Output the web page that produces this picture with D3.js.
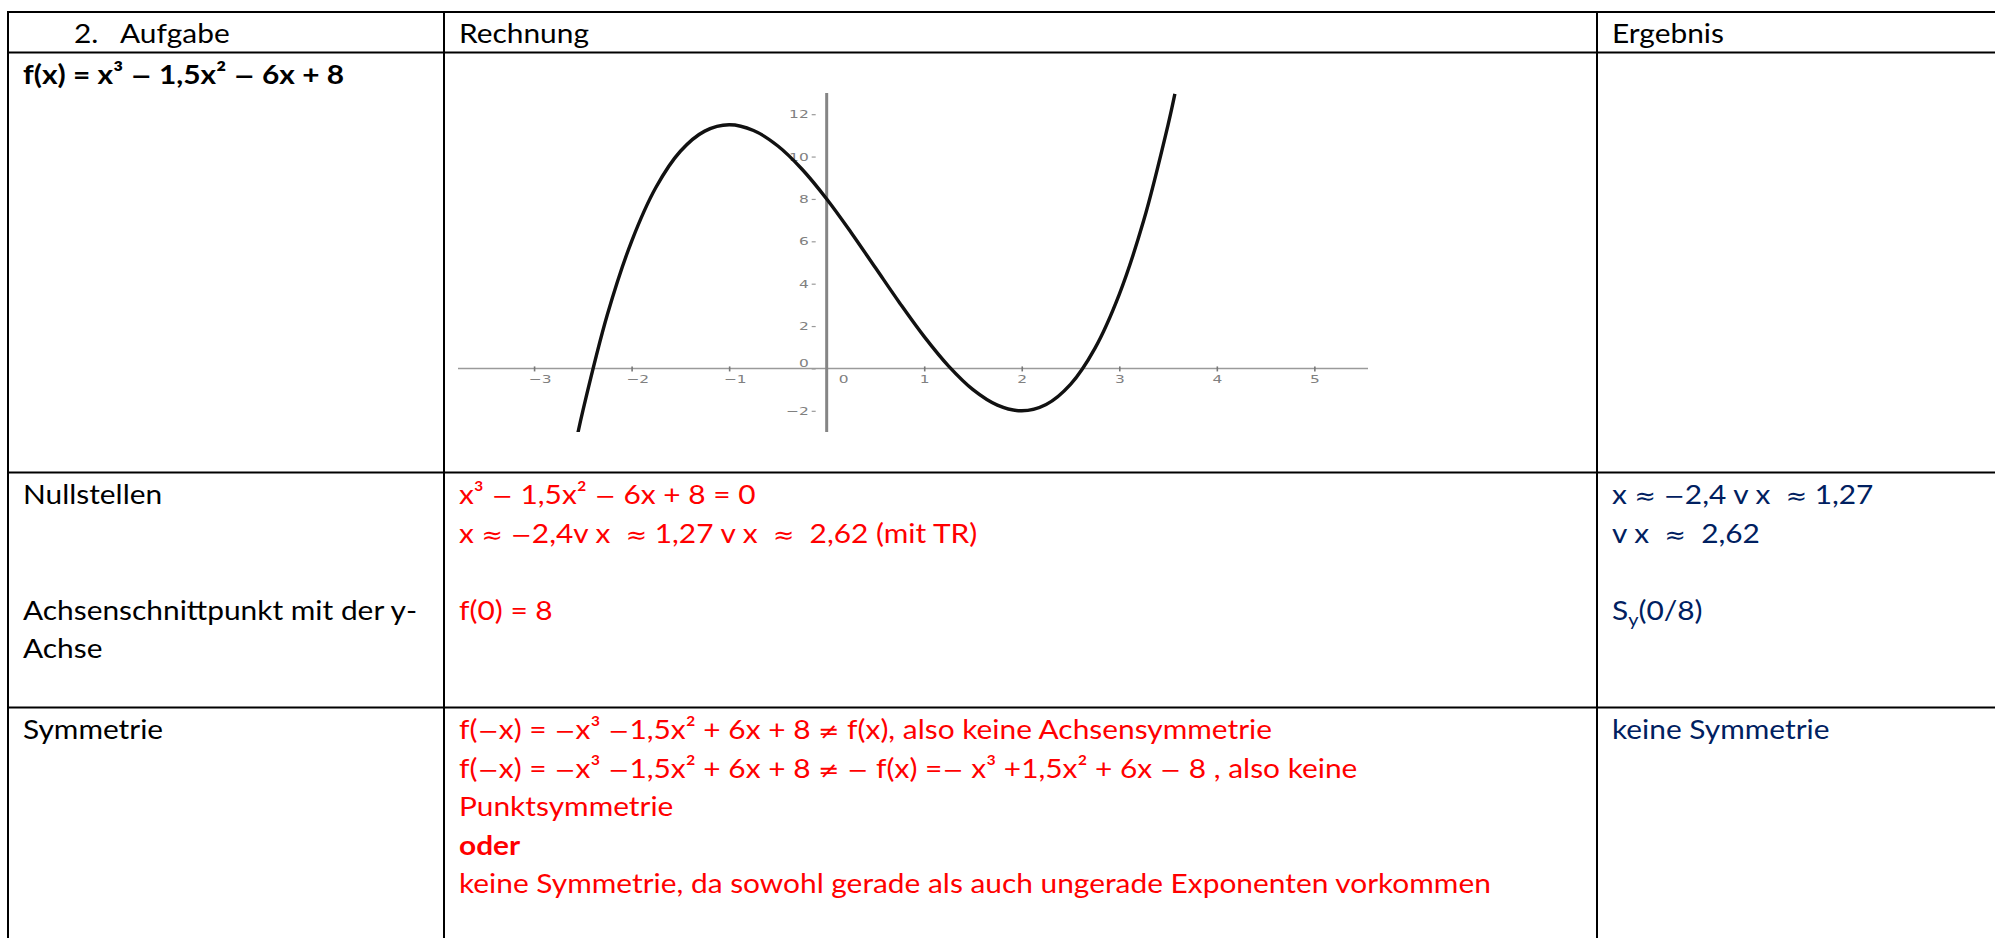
<!DOCTYPE html>
<html lang="de">
<head>
<meta charset="UTF-8">
<title>2. Aufgabe – Kurvendiskussion</title>
<script src="https://d3js.org/d3.v7.min.js"></script>
<style>
  body { margin: 0; background: #fff; }
  svg text { font-family: Lato, "Open Sans", sans-serif; font-size: 27px; white-space: pre; }
  .black { fill: #000; }
  .red { fill: #ff0000; }
  .navy { fill: #002060; }
  .bold { font-weight: 700; }
  .math { font-family: "DejaVu Sans", sans-serif; font-size: 23px; }
  .grid { stroke: #000; stroke-width: 2; }
  .tick text { font-family: "DejaVu Sans", sans-serif; font-size: 11px; fill: #808080; }
</style>
</head>
<body>
<svg id="sheet"></svg>
<script>
// --- values ---
const curveX = [-2.55, -2.5, -2.25, -2, -1.75, -1.5, -1.25, -1, -0.75, -0.5, -0.25, 0,
                0.25, 0.5, 0.75, 1, 1.25, 1.5, 1.75, 2, 2.25, 2.5, 2.75, 3, 3.25, 3.5, 3.57];
const curveY = [-3.03, -2, 2.52, 6, 8.55, 10.25, 11.2, 11.5, 11.23, 10.5, 9.39, 8,
                6.42, 4.75, 3.08, 1.5, 0.11, -1, -1.73, -2, -1.7, -0.75, 0.95, 3.5, 6.98, 11.5, 12.96];
const xTicks = [-3, -2, -1, 1, 2, 3, 4, 5];
const yTicks = [-2, 0, 2, 4, 6, 8, 10, 12];

// --- table text ---
const headerTexts = ["2.", "Aufgabe", "Rechnung", "Ergebnis"];
const funcText = "f(x) = x³ − 1,5x² − 6x + 8";
const rowLabels = ["Nullstellen", "Achsenschnittpunkt mit der y-", "Achse", "Symmetrie"];
const nullstellenCalc = ["x³ − 1,5x² − 6x + 8 = 0", "x ≈ −2,4v x  ≈ 1,27 v x  ≈  2,62 (mit TR)"];
const nullstellenResult = ["x ≈ −2,4 v x  ≈ 1,27", "v x  ≈  2,62"];
const yAchseCalc = "f(0) = 8";
const symmetrieCalc = [
  "f(−x) = −x³ −1,5x² + 6x + 8 ≠ f(x), also keine Achsensymmetrie",
  "f(−x) = −x³ −1,5x² + 6x + 8 ≠ − f(x) =− x³ +1,5x² + 6x − 8 , also keine",
  "Punktsymmetrie",
  "oder",
  "keine Symmetrie, da sowohl gerade als auch ungerade Exponenten vorkommen"
];
const symmetrieResult = "keine Symmetrie";

const W = 1995, H = 938;
const svg = d3.select("#sheet").attr("width", W).attr("height", H);

// table grid
const colX = [8, 444, 1597];
const rowY = [12, 52.5, 472.5, 707.5];
const lineGap = 38.6;

svg.selectAll("line.h").data(rowY).enter().append("line")
  .attr("class", "grid")
  .attr("x1", colX[0] - 1).attr("x2", W)
  .attr("y1", d => d).attr("y2", d => d);
svg.selectAll("line.v").data(colX).enter().append("line")
  .attr("class", "grid")
  .attr("x1", d => d).attr("x2", d => d)
  .attr("y1", rowY[0]).attr("y2", H);

// Lato is wider than the document font -> stretch so the long line fits like in the picture
const probe = svg.append("text").text(symmetrieCalc[4]);
const sx = 1032 / probe.node().getComputedTextLength();
probe.remove();

// math signs are set in a wider font, like the formula font of the original
function fillText(sel, txt) {
  txt.split(/([−≈≠])/).forEach(part => {
    if (!part) return;
    const t = sel.append("tspan").text(part);
    if (/^[−≈≠]$/.test(part)) t.attr("class", "math");
  });
  return sel;
}

function put(x, y, txt, cls) {
  const t = svg.append("text")
    .attr("class", cls)
    .attr("transform", `translate(${x},${y}) scale(${sx},1)`);
  return fillText(t, txt);
}
function putLines(x, top, lines, cls, start = 0) {
  lines.forEach((t, i) => put(x, top + 31.5 + (i + start) * lineGap, t, cls));
}

const c0 = colX[0] + 15, c1 = colX[1] + 15, c2 = colX[2] + 15;

// header row
put(74, rowY[0] + 31, headerTexts[0], "black");
put(120, rowY[0] + 31, headerTexts[1], "black");
put(c1, rowY[0] + 31, headerTexts[2], "black");
put(c2, rowY[0] + 31, headerTexts[3], "black");

// function row
putLines(c0, rowY[1], [funcText], "black bold");

// Nullstellen / y-Achse row
putLines(c0, rowY[2], [rowLabels[0]], "black");
putLines(c0, rowY[2], [rowLabels[1], rowLabels[2]], "black", 3);
putLines(c1, rowY[2], nullstellenCalc, "red");
putLines(c1, rowY[2], [yAchseCalc], "red", 3);
putLines(c2, rowY[2], nullstellenResult, "navy");

const sy = put(c2, rowY[2] + 31.5 + 3 * lineGap, "", "navy");
sy.append("tspan").text("S");
sy.append("tspan").attr("dy", 6).style("font-size", "18px").text("y");
sy.append("tspan").attr("dy", -6).text("(0/8)");

// Symmetrie row
putLines(c0, rowY[3], [rowLabels[3]], "black");
symmetrieCalc.forEach((t, i) =>
  put(c1, rowY[3] + 31.5 + i * lineGap, t, i === 3 ? "red bold" : "red"));
putLines(c2, rowY[3], [symmetrieResult], "navy");

// --- graph ---
const x = d3.scaleLinear().domain([-3.78, 5.55]).range([458, 1368]);
const y = d3.scaleLinear().domain([-3, 13]).range([432, 93]);
const graph = svg.append("g");

graph.append("clipPath").attr("id", "plotClip").append("rect")
  .attr("x", x.range()[0]).attr("y", y.range()[1])
  .attr("width", x.range()[1] - x.range()[0])
  .attr("height", y.range()[0] - y.range()[1]);

// x axis
graph.append("line")
  .attr("x1", x.range()[0]).attr("x2", x.range()[1])
  .attr("y1", y(0)).attr("y2", y(0))
  .attr("stroke", "#9a9a9a").attr("stroke-width", 1.6);

const fmt = d => d < 0 ? "−" + (-d) : String(d);

const gx = graph.append("g")
  .attr("transform", `translate(0,${y(0)})`)
  .call(d3.axisBottom(x).tickValues(xTicks).tickSize(3).tickPadding(4).tickFormat(fmt));
gx.select(".domain").remove();
gx.selectAll(".tick line").attr("stroke", "#777").attr("stroke-width", 1.6).attr("y1", -2);
gx.selectAll(".tick text")
  .attr("dx", d => d < 0 ? 4 : 0)
  .attr("transform", "scale(1.4,1)");

// x label for the origin sits right of the y axis
graph.append("g").attr("class", "tick")
  .attr("transform", `translate(${x(0) + 17},${y(0) + 7})`)
  .append("text").attr("dy", "0.71em").attr("text-anchor", "middle")
  .attr("transform", "scale(1.4,1)").text("0");

// y axis
graph.append("line")
  .attr("x1", x(0)).attr("x2", x(0))
  .attr("y1", y.range()[0]).attr("y2", y.range()[1])
  .attr("stroke", "#858585").attr("stroke-width", 3);

const gy = graph.append("g")
  .attr("transform", `translate(${x(0)},0)`)
  .call(d3.axisLeft(y).tickValues(yTicks).tickSize(0).tickFormat(fmt));
gy.select(".domain").remove();
gy.selectAll(".tick line")
  .attr("x1", -15).attr("x2", -11)
  .attr("stroke", "#999").attr("stroke-width", 1.2);
gy.selectAll(".tick text")
  .attr("x", 0)
  .attr("dy", d => d === 0 ? "-0.2em" : "0.32em")
  .attr("transform", "translate(-18,0) scale(1.4,1)");

// curve f(x) = x³ − 1,5x² − 6x + 8
const pts = curveX.map((v, i) => [v, curveY[i]]);
graph.append("path")
  .datum(pts)
  .attr("clip-path", "url(#plotClip)")
  .attr("fill", "none")
  .attr("stroke", "#111")
  .attr("stroke-width", 3.4)
  .attr("d", d3.line().x(d => x(d[0])).y(d => y(d[1])).curve(d3.curveCatmullRom.alpha(0.5)));
</script>
</body>
</html>
